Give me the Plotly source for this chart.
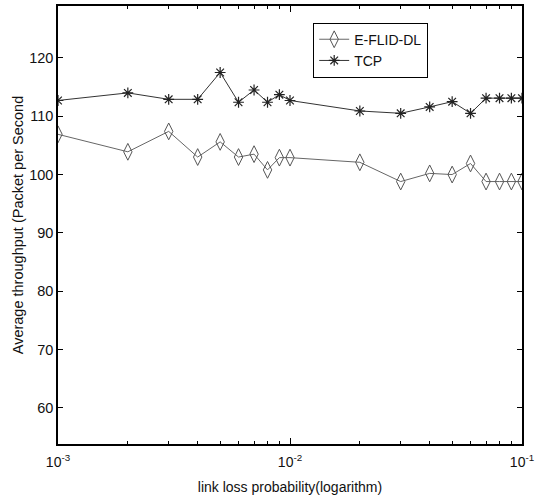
import plotly.graph_objects as go

loss_prob = [0.001, 0.002, 0.003, 0.004, 0.005, 0.006, 0.007, 0.008, 0.009, 0.01,
             0.02, 0.03, 0.04, 0.05, 0.06, 0.07, 0.08, 0.09, 0.1]
eflid_dl = [106.9, 103.9, 107.4, 103.0, 105.6, 103.0, 103.5, 100.8, 102.9, 102.9,
            102.1, 98.8, 100.2, 100.0, 101.9, 98.8, 98.8, 98.8, 98.8]
tcp = [112.7, 114.0, 112.9, 112.9, 117.5, 112.4, 114.5, 112.4, 113.7, 112.7,
       110.9, 110.5, 111.6, 112.5, 110.5, 113.1, 113.1, 113.1, 113.1]
x_tickvals = [0.001, 0.01, 0.1]
x_ticktext = ["10<sup>-3</sup>", "10<sup>-2</sup>", "10<sup>-1</sup>"]
x_minor = [k * 10 ** e for e in (-3, -2) for k in range(2, 10)]
y_tickvals = [60, 70, 80, 90, 100, 110, 120]

fig = go.Figure()
fig.add_trace(go.Scatter(
    x=loss_prob, y=eflid_dl, name="E-FLID-DL", mode="lines+markers",
    line=dict(color="#666666", width=1),
    marker=dict(symbol="diamond-tall-open", size=12, color="#555555",
                line=dict(width=1, color="#555555")),
))
fig.add_trace(go.Scatter(
    x=loss_prob, y=tcp, name="TCP", mode="lines+markers",
    line=dict(color="#333333", width=1),
    marker=dict(symbol="asterisk-open", size=9, color="#222222",
                line=dict(width=1.2, color="#222222")),
))

fig.update_layout(
    width=539, height=499,
    margin=dict(l=58, r=17, t=6, b=55),
    paper_bgcolor="white", plot_bgcolor="white",
    font=dict(family="Liberation Sans, Arial, sans-serif", size=13, color="#111111"),
    showlegend=True,
    legend=dict(x=0.550, y=0.962, xanchor="left", yanchor="top",
                bgcolor="white", bordercolor="black", borderwidth=1,
                font=dict(size=14), tracegroupgap=0, itemwidth=30),
)
fig.update_xaxes(
    type="log", range=[-3, -1], automargin=False,
    tickmode="array", tickvals=x_tickvals, ticktext=x_ticktext,
    ticks="inside", ticklen=6, tickcolor="black", tickwidth=1,
    minor=dict(tickmode="array", tickvals=x_minor, ticks="inside", ticklen=3,
               tickcolor="black", tickwidth=1, showgrid=False),
    showline=True, linecolor="black", linewidth=1.5, mirror="ticks",
    showgrid=False, zeroline=False,
    tickfont=dict(size=14), ticklabelstandoff=4,
    title=dict(text="link loss probability(logarithm)", font=dict(size=14), standoff=14),
)
fig.update_yaxes(
    range=[53.8, 128.9], automargin=False,
    tickmode="array", tickvals=y_tickvals,
    ticks="inside", ticklen=5, tickcolor="black", tickwidth=1,
    showline=True, linecolor="black", linewidth=1.5, mirror="ticks",
    showgrid=False, zeroline=False,
    tickfont=dict(size=14.5), ticklabelstandoff=0,
    title=dict(text="Average throughput (Packet per Second", font=dict(size=14.5), standoff=2),
)

fig.write_html("out.html", config={"displayModeBar": False},
               post_script="document.body.style.margin='0';")
